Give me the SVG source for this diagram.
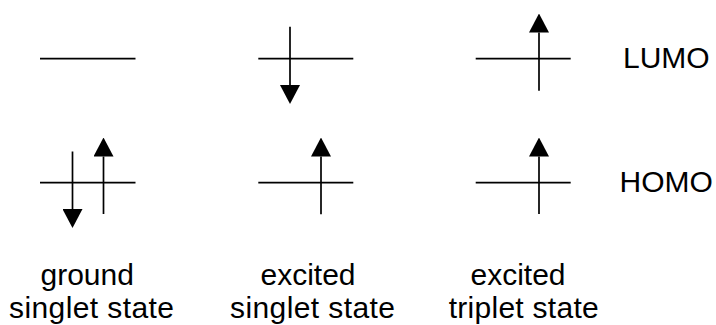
<svg xmlns="http://www.w3.org/2000/svg" width="716" height="325" viewBox="0 0 716 325">
<style>
.lvl{stroke:#000;stroke-width:1.7;fill:none}
.spin{stroke:#000;stroke-width:1.7;fill:none;marker-end:url(#head)}
.t{font-family:"Liberation Sans",Arial,sans-serif;font-size:30px;fill:#000}
</style>
<defs>
<marker id="head" viewBox="0 0 19 20" markerWidth="19" markerHeight="20" refX="0" refY="10" orient="auto" markerUnits="userSpaceOnUse">
<path d="M0,0 L19,10 L0,20 Z" fill="#000"/>
</marker>
</defs>
<rect width="716" height="325" fill="#fff"/>
<g id="ground">
<line class="lvl" x1="40" y1="58.7" x2="135.5" y2="58.7"/>
<line class="lvl" x1="40" y1="182.7" x2="135.5" y2="182.7"/>
<line class="spin" x1="72.5" y1="151.5" x2="72.5" y2="209"/>
<line class="spin" x1="103.5" y1="214" x2="103.5" y2="156.5"/>
<text class="t" x="40.5" y="284.5">ground</text>
<text class="t" x="9" y="318" textLength="165" lengthAdjust="spacing">singlet state</text>
</g>
<g id="excited-singlet">
<line class="lvl" x1="258.3" y1="58.7" x2="353.3" y2="58.7"/>
<line class="lvl" x1="258.3" y1="182.7" x2="353.3" y2="182.7"/>
<line class="spin" x1="290" y1="26.7" x2="290" y2="85"/>
<line class="spin" x1="321" y1="214.3" x2="321" y2="156.5"/>
<text class="t" x="260.5" y="284.5">excited</text>
<text class="t" x="230" y="318" textLength="165" lengthAdjust="spacing">singlet state</text>
</g>
<g id="excited-triplet">
<line class="lvl" x1="475.7" y1="58.7" x2="570.7" y2="58.7"/>
<line class="lvl" x1="475.7" y1="182.7" x2="570.7" y2="182.7"/>
<line class="spin" x1="539" y1="90.7" x2="539" y2="32.5"/>
<line class="spin" x1="539" y1="214" x2="539" y2="156.5"/>
<text class="t" x="470.5" y="284.5">excited</text>
<text class="t" x="448.7" y="318" textLength="150" lengthAdjust="spacing">triplet state</text>
</g>
<g id="labels">
<text class="t" x="623" y="67.7">LUMO</text>
<text class="t" x="619.5" y="191.7">HOMO</text>
</g>
</svg>
